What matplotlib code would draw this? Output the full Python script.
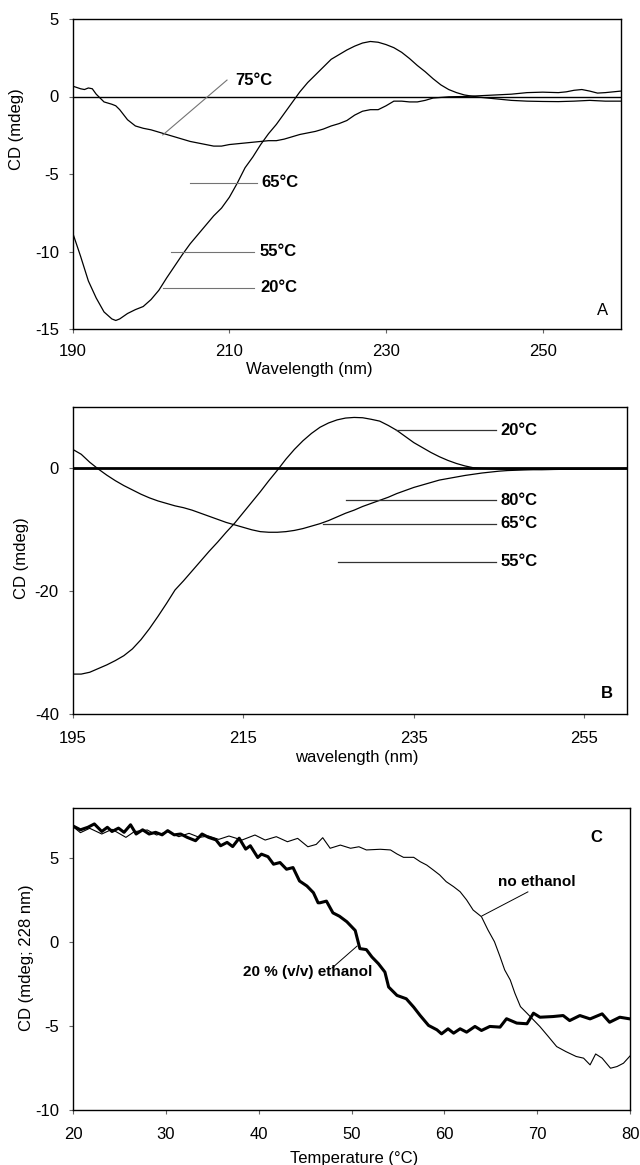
import matplotlib
matplotlib.use("Agg")
import matplotlib.pyplot as plt

plt.rcParams['font.family'] = ['Liberation Sans', 'DejaVu Sans']
plt.rcParams['font.size'] = 12
plt.rcParams['axes.unicode_minus'] = False

# ---------------- Panel A data ----------------
a_wl_20 = [190, 191, 192, 193, 194, 195, 195.5, 196, 197, 198, 199, 200, 201, 202, 203, 204, 205,
           206, 207, 208, 209, 210, 211, 212, 213, 214, 215, 216, 217, 218, 219, 220, 221, 222, 223,
           224, 225, 226, 227, 228, 229, 230, 231, 232, 233, 234, 235, 236, 237, 238, 239, 240, 241,
           242, 244, 246, 248, 250, 252, 254, 256, 258, 260]
a_cd_20 = [-8.8, -10.3, -11.9, -13.0, -13.9, -14.35, -14.45, -14.35, -14.0, -13.75, -13.55, -13.1,
           -12.5, -11.7, -10.95, -10.2, -9.5, -8.9, -8.3, -7.7, -7.2, -6.5, -5.6, -4.6, -3.9, -3.1,
           -2.4, -1.8, -1.1, -0.4, 0.3, 0.9, 1.4, 1.9, 2.4, 2.7, 3.0, 3.25, 3.45, 3.55, 3.5, 3.35,
           3.15, 2.85, 2.45, 2.0, 1.6, 1.15, 0.75, 0.45, 0.25, 0.1, 0.02, -0.05, -0.15, -0.25, -0.3,
           -0.32, -0.33, -0.3, -0.25, -0.3, -0.3]
a_wl_75 = [190, 191, 191.5, 192, 192.5, 193, 193.5, 194, 195, 195.5, 196, 197, 198, 199, 200, 201,
           202, 203, 204, 205, 206, 207, 208, 209, 210, 211, 212, 213, 214, 215, 216, 217, 218, 219,
           220, 221, 222, 223, 224, 225, 226, 227, 228, 229, 230, 231, 232, 233, 234, 235, 236, 238,
           240, 242, 244, 246, 248, 250, 252, 253, 254, 255, 256, 257, 258, 259, 260]
a_cd_75 = [0.67, 0.5, 0.45, 0.55, 0.5, 0.15, -0.1, -0.35, -0.5, -0.6, -0.85, -1.5, -1.9, -2.05,
           -2.15, -2.3, -2.45, -2.6, -2.75, -2.9, -3.0, -3.1, -3.2, -3.2, -3.1, -3.05, -3.0, -2.95,
           -2.9, -2.85, -2.85, -2.75, -2.6, -2.45, -2.35, -2.25, -2.1, -1.9, -1.75, -1.55, -1.2,
           -0.95, -0.85, -0.85, -0.6, -0.3, -0.3, -0.35, -0.35, -0.25, -0.1, -0.02, 0.0, 0.05, 0.1,
           0.15, 0.25, 0.28, 0.25, 0.3, 0.4, 0.45, 0.35, 0.22, 0.25, 0.3, 0.35]
a_labels = ["75°C", "65°C", "55°C", "20°C"]
a_label_pos = [(210.7, 1.06), (214.1, -5.58), (213.9, -10.03), (213.9, -12.35)]
a_leaders = [((209.7, 1.06), (201.5, -2.48)), ((205.0, -5.58), (213.5, -5.58)),
             ((202.6, -10.03), (213.2, -10.03)), ((201.5, -12.35), (213.2, -12.35))]

# ---------------- Panel B data ----------------
b_wl_20 = [195, 196, 197, 198, 199, 200, 201, 202, 203, 204, 205, 206, 207, 208, 209, 210, 211, 212,
           213, 214, 215, 216, 217, 218, 219, 220, 221, 222, 223, 224, 225, 226, 227, 228, 229, 230,
           231, 232, 233, 234, 235, 236, 237, 238, 239, 240, 241, 242, 243, 245, 250, 255, 260]
b_cd_20 = [-33.5, -33.5, -33.2, -32.6, -32.0, -31.3, -30.5, -29.4, -27.9, -26.1, -24.1, -22.0,
           -19.8, -18.3, -16.7, -15.1, -13.5, -12.0, -10.4, -8.9, -7.2, -5.5, -3.8, -2.0, -0.3, 1.5,
           3.1, 4.5, 5.7, 6.7, 7.4, 7.9, 8.2, 8.3, 8.25, 8.0, 7.7, 7.0, 6.2, 5.2, 4.2, 3.4, 2.6, 1.9,
           1.3, 0.8, 0.4, 0.1, 0.0, -0.1, -0.2, -0.1, 0.0]
b_wl_80 = [195, 196, 197, 198, 199, 200, 201, 202, 203, 204, 205, 206, 207, 208, 209, 210, 211, 212,
           213, 214, 215, 216, 217, 218, 219, 220, 221, 222, 223, 224, 225, 226, 227, 228, 229, 230,
           231, 232, 233, 234, 235, 236, 237, 238, 239, 240, 241, 242, 243, 244, 245, 246, 247, 249,
           252, 255, 260]
b_cd_80 = [3.1, 2.3, 1.0, -0.1, -1.1, -2.0, -2.8, -3.5, -4.2, -4.8, -5.3, -5.7, -6.1, -6.4, -6.8,
           -7.3, -7.8, -8.3, -8.8, -9.2, -9.6, -10.0, -10.3, -10.4, -10.4, -10.3, -10.1, -9.8, -9.4,
           -9.0, -8.5, -7.9, -7.3, -6.8, -6.2, -5.7, -5.2, -4.7, -4.1, -3.6, -3.1, -2.7, -2.3, -1.9,
           -1.65, -1.4, -1.15, -0.95, -0.75, -0.6, -0.45, -0.35, -0.3, -0.2, -0.15, -0.1, -0.05]
b_labels = ["20°C", "80°C", "65°C", "55°C"]
b_label_y = [6.25, -5.2, -9.0, -15.2]
b_leader_x0 = [232.9, 227.0, 224.4, 226.1]
b_leader_x1 = 244.6
b_label_x = 245.2

# ---------------- Panel C data ----------------
c_t_eth = [20.0, 20.8, 21.6, 22.3, 23.1, 23.7, 24.2, 24.9, 25.5, 26.2, 26.8, 27.5, 28.2, 28.9, 29.6,
           30.2, 30.9, 31.6, 32.3, 33.2, 33.9, 34.6, 35.4, 35.9, 36.6, 37.2, 37.9, 38.6, 39.1, 39.9,
           40.3, 41.0, 41.6, 42.3, 43.0, 43.7, 44.4, 45.2, 45.9, 46.4, 46.6, 47.3, 48.0, 48.7, 49.5,
           50.4, 50.9, 51.6, 52.2, 52.9, 53.6, 54.0, 54.9, 55.9, 56.7, 57.4, 58.3, 59.2, 59.7, 60.4,
           61.0, 61.7, 62.4, 63.3, 64.0, 64.9, 66.0, 66.7, 67.8, 68.9, 69.6, 70.3, 71.7, 72.8, 73.5,
           74.6, 75.7, 77.0, 77.8, 78.9, 80.0]
c_cd_eth = [6.93, 6.7, 6.85, 7.05, 6.6, 6.85, 6.6, 6.8, 6.55, 7.0, 6.45, 6.7, 6.45, 6.55, 6.4,
            6.65, 6.4, 6.45, 6.25, 6.05, 6.45, 6.25, 6.1, 5.75, 5.95, 5.7, 6.2, 5.55, 5.75, 5.05,
            5.25, 5.1, 4.65, 4.75, 4.35, 4.45, 3.65, 3.35, 2.95, 2.35, 2.35, 2.45, 1.75, 1.55, 1.22,
            0.7, -0.38, -0.44, -0.88, -1.28, -1.78, -2.67, -3.17, -3.37, -3.87, -4.37, -4.96, -5.22,
            -5.46, -5.16, -5.42, -5.16, -5.36, -5.02, -5.26, -5.02, -5.06, -4.56, -4.82, -4.86,
            -4.23, -4.47, -4.43, -4.37, -4.67, -4.37, -4.57, -4.27, -4.77, -4.47, -4.57]
c_t_no = [20.0, 20.8, 21.8, 23.1, 24.2, 25.7, 26.6, 28.0, 29.0, 30.2, 31.4, 32.5, 33.6, 34.6, 35.7,
          36.8, 38.2, 39.6, 40.7, 41.9, 43.1, 44.2, 45.3, 46.2, 46.9, 47.7, 48.8, 49.9, 50.8, 51.6,
          53.1, 54.2, 54.9, 55.6, 56.7, 57.4, 58.1, 58.8, 59.5, 60.2, 61.0, 61.7, 62.4, 63.1, 64.0,
          64.7, 65.4, 66.0, 66.5, 67.1, 67.6, 68.2, 68.9, 69.6, 70.3, 71.2, 72.1, 73.1, 74.2, 75.0,
          75.7, 76.3, 77.0, 77.9, 78.6, 79.3, 80.0]
c_cd_no = [6.89, 6.53, 6.79, 6.45, 6.73, 6.25, 6.59, 6.69, 6.39, 6.59, 6.29, 6.49, 6.25, 6.33,
           6.13, 6.33, 6.09, 6.39, 6.09, 6.29, 5.99, 6.19, 5.69, 5.83, 6.23, 5.6, 5.79, 5.6, 5.69,
           5.5, 5.54, 5.5, 5.26, 5.06, 5.06, 4.8, 4.6, 4.31, 4.01, 3.61, 3.31, 3.01, 2.52, 1.92, 1.52,
           0.73, 0.03, -0.86, -1.65, -2.25, -3.04, -3.84, -4.23, -4.63, -5.03, -5.62, -6.22, -6.52,
           -6.81, -6.91, -7.31, -6.66, -6.91, -7.51, -7.41, -7.21, -6.78]

W, H = 640, 1165
fig = plt.figure(figsize=(W / 100, H / 100), dpi=100)


def box(l, t, r, b):
    return [l / W, 1 - b / H, (r - l) / W, (b - t) / H]


def style(ax, xpad, ypad=7):
    for s in ax.spines.values():
        s.set_linewidth(1.0)
        s.set_color('black')
    ax.tick_params(direction='out', length=3, width=0.8, color='0.4', labelsize=12)
    ax.tick_params(axis='x', pad=xpad)
    ax.tick_params(axis='y', pad=ypad)


# ---------------- Panel A ----------------
axA = fig.add_axes(box(72.7, 19, 621, 329))
axA.plot(a_wl_20, a_cd_20, color='black', lw=0.9, solid_joinstyle='round')
axA.plot(a_wl_75, a_cd_75, color='black', lw=0.9, solid_joinstyle='round')
axA.axhline(0, color='black', lw=1.0)
for (p0, p1) in a_leaders:
    axA.plot([p0[0], p1[0]], [p0[1], p1[1]], color='0.45', lw=0.8)
for lab, (x, y) in zip(a_labels, a_label_pos):
    axA.text(x, y, lab, ha='left', va='center', fontsize=12, fontweight='bold')
axA.text(257.6, -13.8, "A", ha='center', va='center', fontsize=12)
axA.set_xlim(190, 260)
axA.set_ylim(-15, 5)
axA.set_xticks([190, 210, 230, 250])
axA.set_yticks([-15, -10, -5, 0, 5])
style(axA, xpad=7.5)
axA.set_xlabel("Wavelength (nm)", fontsize=12, va='center')
axA.xaxis.set_label_coords(0.431, -0.132)
axA.set_ylabel("CD (mdeg)", fontsize=12, va='center')
axA.yaxis.set_label_coords(-0.102, 0.645)

# ---------------- Panel B ----------------
axB = fig.add_axes(box(72.7, 407, 627, 714))
axB.plot(b_wl_20, b_cd_20, color='black', lw=0.9, solid_joinstyle='round')
axB.plot(b_wl_80, b_cd_80, color='black', lw=0.9, solid_joinstyle='round')
axB.axhline(0, color='black', lw=2.0)
for lab, y, x0 in zip(b_labels, b_label_y, b_leader_x0):
    axB.plot([x0, b_leader_x1], [y, y], color='0.2', lw=0.9)
    axB.text(b_label_x, y, lab, ha='left', va='center', fontsize=12, fontweight='bold')
axB.text(257.6, -36.6, "B", ha='center', va='center', fontsize=12, fontweight='bold')
axB.set_xlim(195, 260)
axB.set_ylim(-40, 10)
axB.set_xticks([195, 215, 235, 255])
axB.set_yticks([-40, -20, 0])
style(axB, xpad=9.5)
axB.set_xlabel("wavelength (nm)", fontsize=12, va='center')
axB.xaxis.set_label_coords(0.513, -0.143)
axB.set_ylabel("CD (mdeg)", fontsize=12, va='center')
axB.yaxis.set_label_coords(-0.0915, 0.508)

# ---------------- Panel C ----------------
axC = fig.add_axes(box(73, 808, 630, 1110))
axC.plot(c_t_no, c_cd_no, color='black', lw=0.8, solid_joinstyle='round')
axC.plot(c_t_eth, c_cd_eth, color='black', lw=2.2, solid_joinstyle='round')
axC.plot([69.0, 64.06], [3.0, 1.57], color='black', lw=0.7)
axC.plot([47.9, 50.6], [-1.54, -0.23], color='black', lw=0.7)
axC.text(70.0, 3.6, "no ethanol", ha='center', va='center', fontsize=11, fontweight='bold')
axC.text(45.26, -1.78, "20 % (v/v) ethanol", ha='center', va='center', fontsize=11,
         fontweight='bold')
axC.text(76.4, 6.27, "C", ha='center', va='center', fontsize=12, fontweight='bold')
axC.set_xlim(20, 80)
axC.set_ylim(-10, 8)
axC.set_xticks([20, 30, 40, 50, 60, 70, 80])
axC.set_yticks([-10, -5, 0, 5])
style(axC, xpad=9.5)
axC.set_xlabel("Temperature (°C)", fontsize=12, va='center')
axC.xaxis.set_label_coords(0.504, -0.159)
axC.set_ylabel("CD (mdeg; 228 nm)", fontsize=12, va='center')
axC.yaxis.set_label_coords(-0.0826, 0.503)

fig.savefig("out.png", dpi=100)
